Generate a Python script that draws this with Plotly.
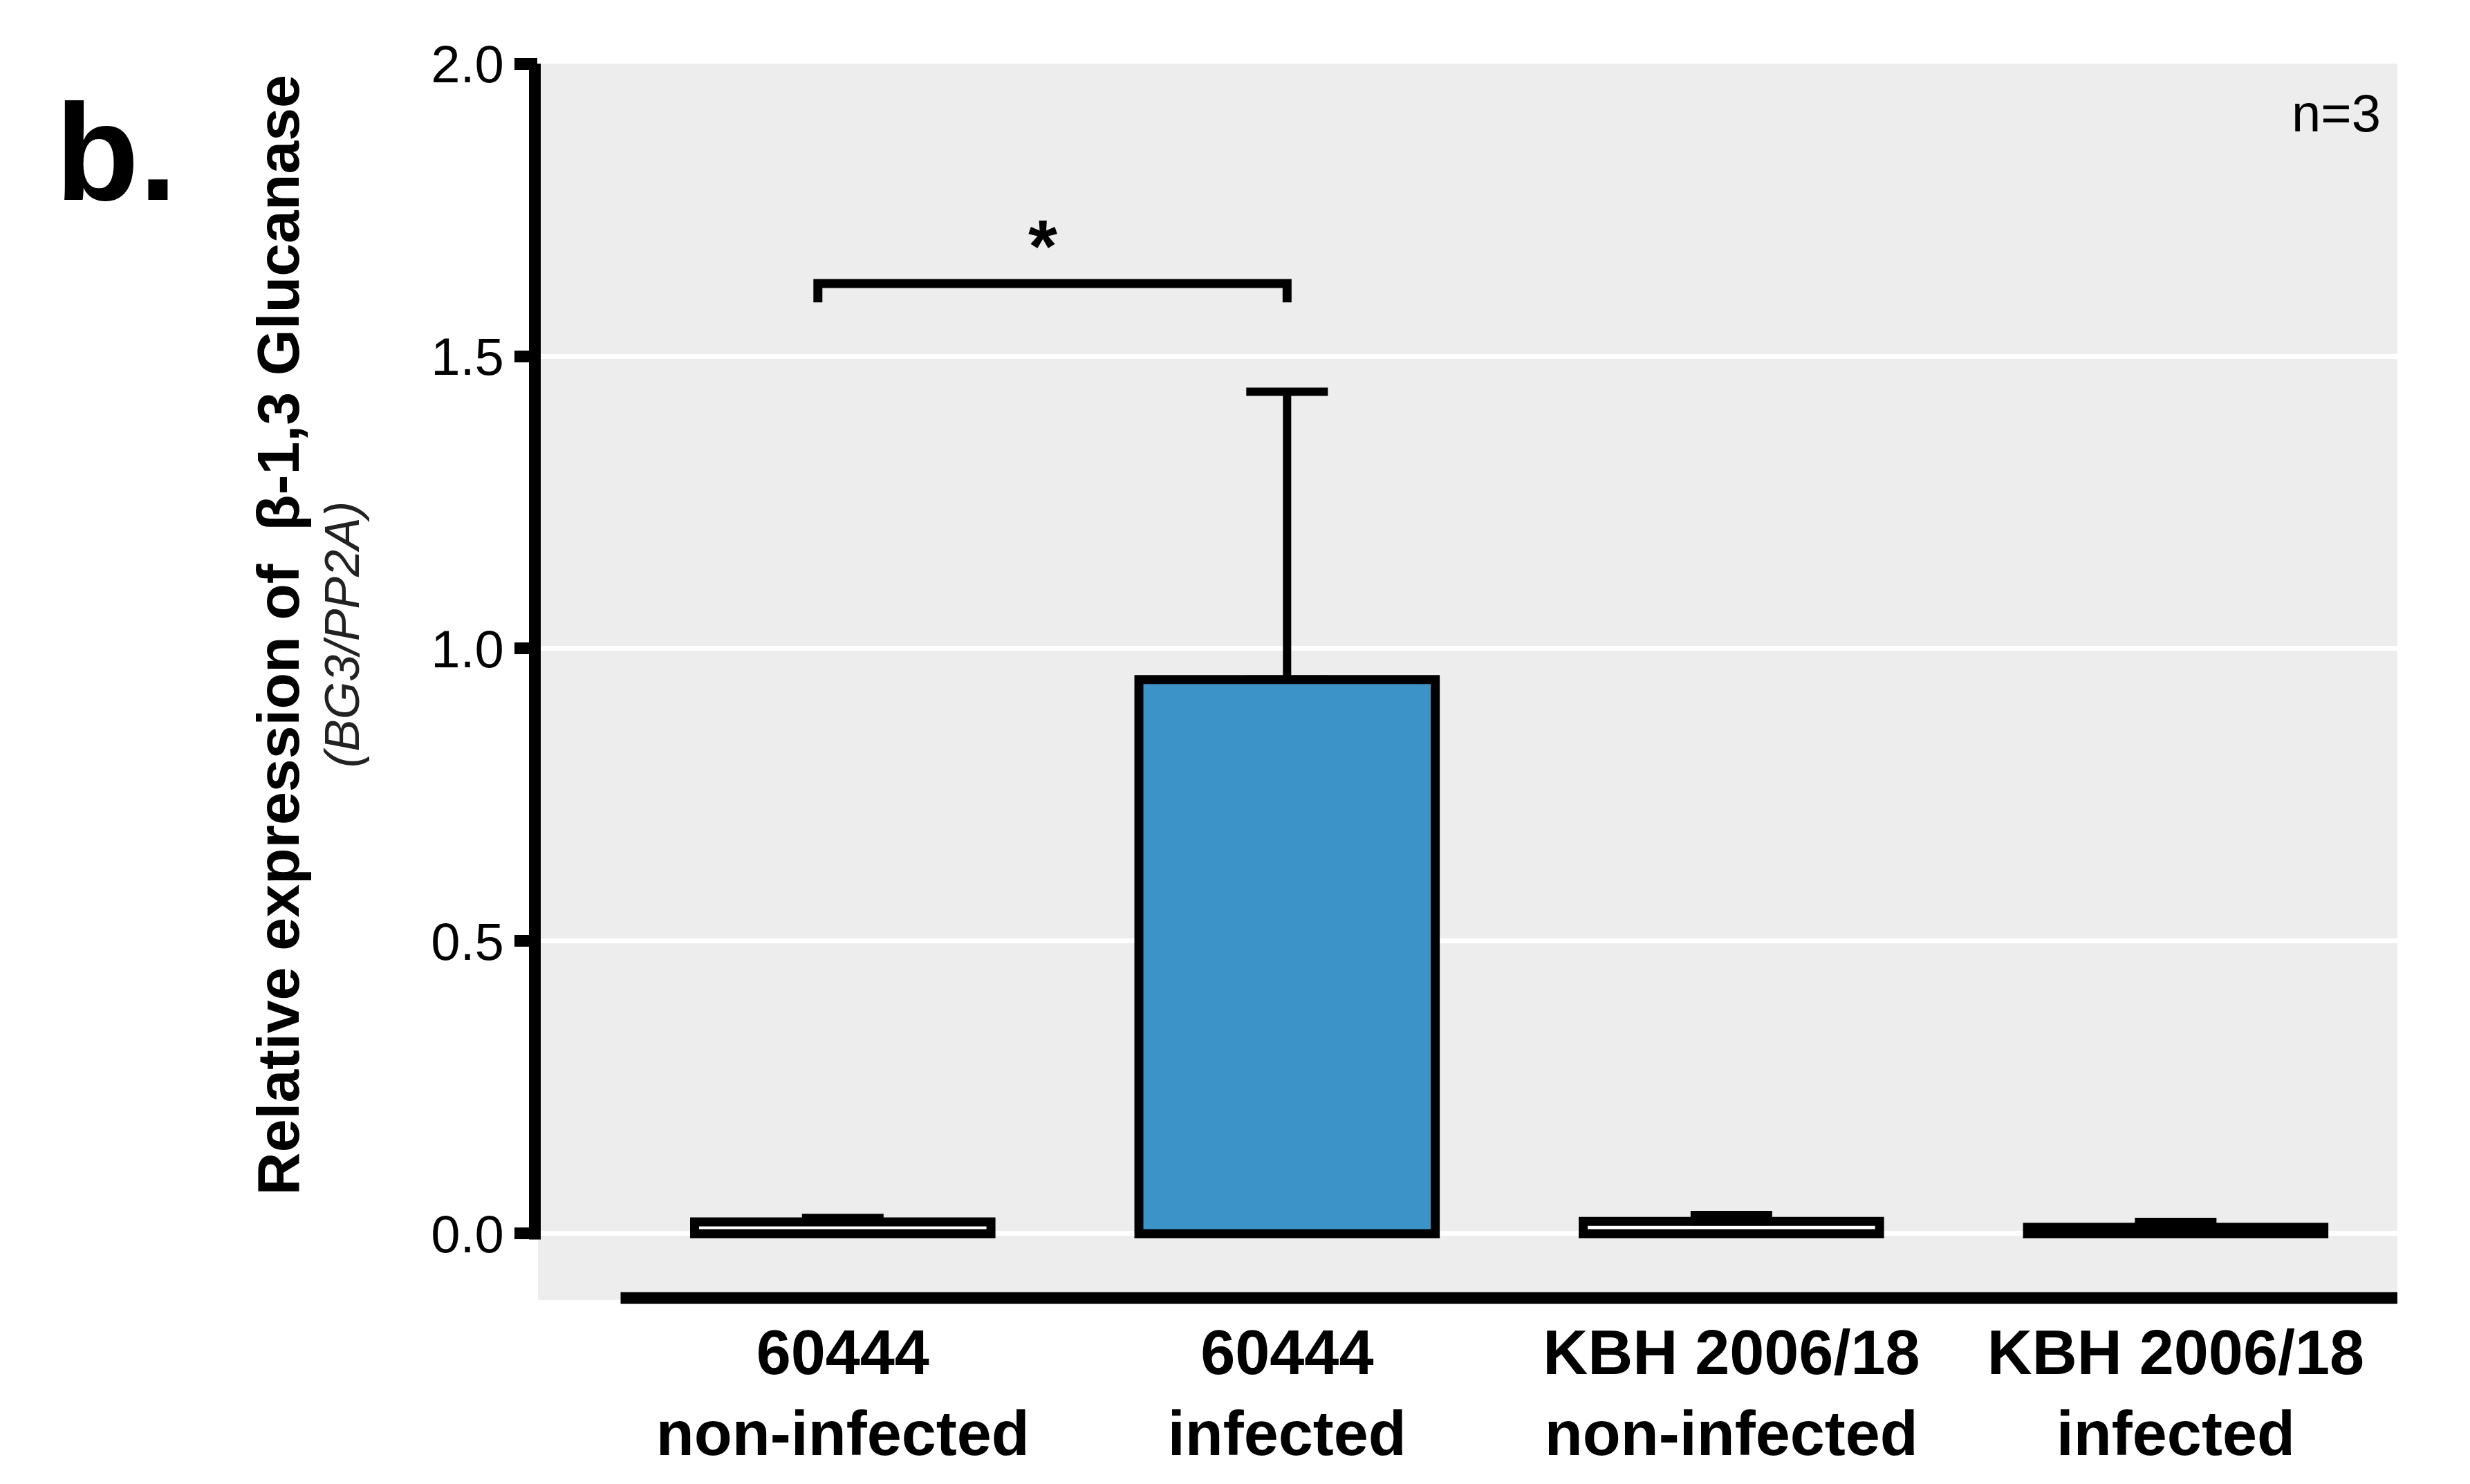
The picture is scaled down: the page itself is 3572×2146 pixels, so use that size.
import plotly.graph_objects as go

# ---- data ----
groups = ["60444 non-infected", "60444 infected", "KBH 2006/18 non-infected", "KBH 2006/18 infected"]
tick_labels = ["60444<br>non-infected", "60444<br>infected", "KBH 2006/18<br>non-infected", "KBH 2006/18<br>infected"]
mean_expr = [0.020, 0.947, 0.021, 0.011]
sem_expr = [0.007, 0.492, 0.011, 0.009]
bar_fill = ["#FFFFFF", "#3B93C8", "#FFFFFF", "#FFFFFF"]
y_ticks = [0.0, 0.5, 1.0, 1.5, 2.0]
y_tick_text = ["0.0", "0.5", "1.0", "1.5", "2.0"]
sig_left = -0.056   # bracket start (category units)
sig_right = 1.0     # bracket end (category units)
sig_level = 1.624
sig_drop = 1.592
sig_text = "*"
n_text = "n=3"

# page body has an 8px default margin -> shrink the figure by that amount
W, H = 3572 - 8, 2146 - 8
ML, MR, MT, MB = 770, 105, 84, 266
PW = W - ML - MR
FONT = "Liberation Sans, Arial, Helvetica, sans-serif"

fig = go.Figure()
fig.add_trace(go.Bar(
    x=groups, y=mean_expr, width=0.667,
    marker=dict(color=bar_fill, line=dict(color="black", width=13)),
    error_y=dict(type="data", symmetric=False, array=sem_expr,
                 arrayminus=[0] * len(sem_expr),
                 color="black", thickness=12, width=59),
    showlegend=False,
))

shapes = []
# y-axis line (0 to 2.0 only)
shapes.append(dict(type="line", xref="paper", yref="y",
                   x0=-4.5 / PW, x1=-4.5 / PW,
                   y0=-0.01, y1=2.0, line=dict(color="black", width=17), layer="above"))
# x-axis line (offset from the y axis)
shapes.append(dict(type="line", xref="x", yref="paper",
                   x0=-0.5, x1=3.499, y0=0.0017, y1=0.0017,
                   line=dict(color="black", width=17), layer="above"))
# significance bracket
shapes.append(dict(type="path", xref="x", yref="y",
                   path=f"M {sig_left},{sig_drop} L {sig_left},{sig_level} L {sig_right},{sig_level} L {sig_right},{sig_drop}",
                   line=dict(color="black", width=13), layer="above"))

annotations = [
    dict(text=sig_text, x=0.45, y=1.688, xref="x", yref="y", showarrow=False,
         font=dict(family=FONT, size=108, color="black", weight="bold")),
    dict(text=n_text, x=0.992, y=0.960, xref="paper", yref="paper", xanchor="right",
         yanchor="middle", showarrow=False, font=dict(family=FONT, size=76, color="black")),
    dict(text="<b>Relative expression of\u00a0 \u03b2-1,3 Glucanase</b>", textangle=-90,
         x=-0.1397, y=0.538, xref="paper", yref="paper", xanchor="center", yanchor="middle",
         showarrow=False, font=dict(family=FONT, size=86, color="black")),
    dict(text="<i>(BG3/PP2A)</i>", textangle=-90,
         x=-0.1052, y=0.538, xref="paper", yref="paper", xanchor="center", yanchor="middle",
         showarrow=False, font=dict(family=FONT, size=70, color="#222222")),
    dict(text="<b>b.</b>", x=-0.2268, y=0.928, xref="paper", yref="paper",
         xanchor="center", yanchor="middle", showarrow=False,
         font=dict(family=FONT, size=198, color="black")),
]

fig.update_layout(
    width=W, height=H,
    margin=dict(l=ML, r=MR, t=MT, b=MB, pad=0),
    paper_bgcolor="white", plot_bgcolor="#EDEDED",
    bargap=0.33,
    shapes=shapes, annotations=annotations,
    font=dict(family=FONT, color="black"),
)
fig.update_xaxes(type="category", categoryorder="array", categoryarray=groups,
                 range=[-0.686, 3.499], tickvals=groups, ticktext=tick_labels,
                 showgrid=False, zeroline=False, showline=False, ticks="",
                 tickfont=dict(family=FONT, size=90, color="black", weight="bold"),
                 ticklabelstandoff=16)
fig.update_yaxes(range=[-0.1135, 2.0], tickvals=y_ticks, ticktext=y_tick_text,
                 showgrid=True, gridcolor="white", gridwidth=7, zeroline=False,
                 showline=False, ticks="outside", ticklen=33, tickwidth=17, tickcolor="black",
                 tickfont=dict(family=FONT, size=76, color="black"))

fig.write_html("out.html")
